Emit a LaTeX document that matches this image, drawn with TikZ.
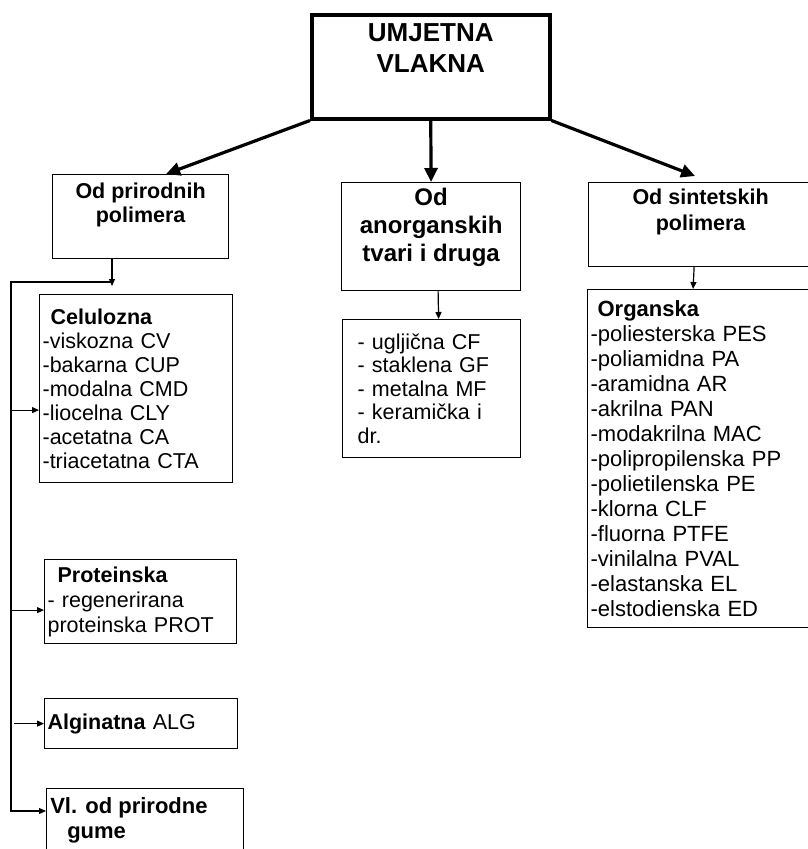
\documentclass[tikz,border=0pt]{standalone}
\usepackage{fontspec}
\setmainfont{Liberation Sans}
\usetikzlibrary{arrows.meta}

\begin{document}
\begin{tikzpicture}[x=1pt, y=-1pt,
    okvir/.style={draw, line width=1.2pt, anchor=north west, inner ysep=0pt, inner xsep=3pt, align=left, font=\fontsize{21.5}{24}\selectfont},
    natpis/.style={anchor=north, inner sep=0pt, align=center},
    debela/.style={line width=3.2pt, -{Triangle[length=14pt,width=13pt]}},
    tanka/.style={line width=1.2pt, -{Triangle[length=7pt,width=6pt]}}]
    \useasboundingbox (0,0) rectangle (807,849);

    % glavni okvir
    \node[okvir, line width=3.5pt, minimum width=238pt, minimum height=104pt,
        label={[natpis, yshift=-10pt, font=\bfseries\fontsize{26}{31}\selectfont]above:UMJETNA\\VLAKNA}] (umjetna) at (310,13) {};

    % tri skupine
    \node[okvir, minimum width=176pt, minimum height=84pt,
        label={[natpis, yshift=-9pt, font=\bfseries\fontsize{21.5}{23.5}\selectfont]above:Od prirodnih\\polimera}] (prirodni) at (52,174) {};
    \node[okvir, minimum width=179pt, minimum height=108pt,
        label={[natpis, yshift=-6pt, font=\bfseries\fontsize{24}{28}\selectfont]above:Od\\anorganskih\\tvari i druga}] (anorg) at (341,182) {};
    \node[okvir, minimum width=224pt, minimum height=84pt,
        label={[natpis, yshift=-7pt, font=\bfseries\fontsize{21.5}{25.5}\selectfont]above:Od sintetskih\\polimera}] (sinteticki) at (588,182) {};

    % prirodni polimeri
    \node[okvir, text width=187pt, minimum height=188pt] (celulozna) at (39,294)
        {\hspace*{8pt}\textbf{Celulozna}\\-viskozna CV\\-bakarna CUP\\-modalna CMD\\-liocelna CLY\\-acetatna CA\\-triacetatna CTA};
    \node[okvir, text width=186pt, minimum height=84pt, font=\fontsize{21.5}{25}\selectfont] (proteinska) at (44,559)
        {\hspace*{10pt}\textbf{Proteinska}\\- regenerirana\\proteinska PROT};
    \node[okvir, text width=187pt, minimum height=50pt] (alginatna) at (44,698)
        {\textbf{Alginatna} ALG};
    \node[okvir, minimum width=197pt, minimum height=120pt,
        label={[anchor=north west, inner sep=0pt, align=left, xshift=-95pt, yshift=-9pt, font=\bfseries\fontsize{22}{25}\selectfont]above:Vl. od prirodne\\\hspace*{17pt}gume}] (gume) at (46,788) {};

    % anorganske tvari
    \node[okvir, inner xsep=15pt, text width=148pt, minimum height=138pt, font=\fontsize{21.5}{23.5}\selectfont] (anorgpod) at (342,319)
        {- ugljična CF\\- staklena GF\\- metalna MF\\- keramička i\\dr.};

    % sintetski polimeri
    \node[okvir, text width=218pt, minimum height=338pt, font=\fontsize{22}{25}\selectfont] (organska) at (587,289)
        {\hspace*{7pt}\textbf{Organska}\\-poliesterska PES\\-poliamidna PA\\-aramidna AR\\-akrilna PAN\\-modakrilna MAC\\-polipropilenska PP\\-polietilenska PE\\-klorna CLF\\-fluorna PTFE\\-vinilalna PVAL\\-elastanska EL\\-elstodienska ED};

    % strelice
    \draw[debela] (umjetna.south west) -- ([xshift=25.5pt]prirodni.north);
    \draw[debela] (umjetna.south) -- (anorg.north);
    \draw[debela] (umjetna.south east) -- ([xshift=-5.5pt, yshift=6pt]sinteticki.north);

    \coordinate (vrh) at (11,282);
    \coordinate (spoj) at (112,282);
    \draw[tanka] (prirodni.south -| spoj) -- ([yshift=-4pt]spoj);
    \draw[tanka] (spoj) -- (vrh) |- ([yshift=-23pt]gume.north west);
    \draw[tanka] ([yshift=-21.5pt]celulozna.west -| vrh) -- ([yshift=-21.5pt]celulozna.west);
    \draw[tanka] ([yshift=-8.5pt]proteinska.west -| vrh) -- ([yshift=-8.5pt]proteinska.west);
    \draw[tanka, shorten <=3pt] (alginatna.west -| vrh) -- (alginatna.west);
    \draw[tanka] ([xshift=7pt]anorg.south) -- ([xshift=7pt]anorgpod.north);
    \draw[tanka] ([xshift=-6.5pt]sinteticki.south) -- ([xshift=-6.5pt]organska.north);
\end{tikzpicture}
\end{document}
